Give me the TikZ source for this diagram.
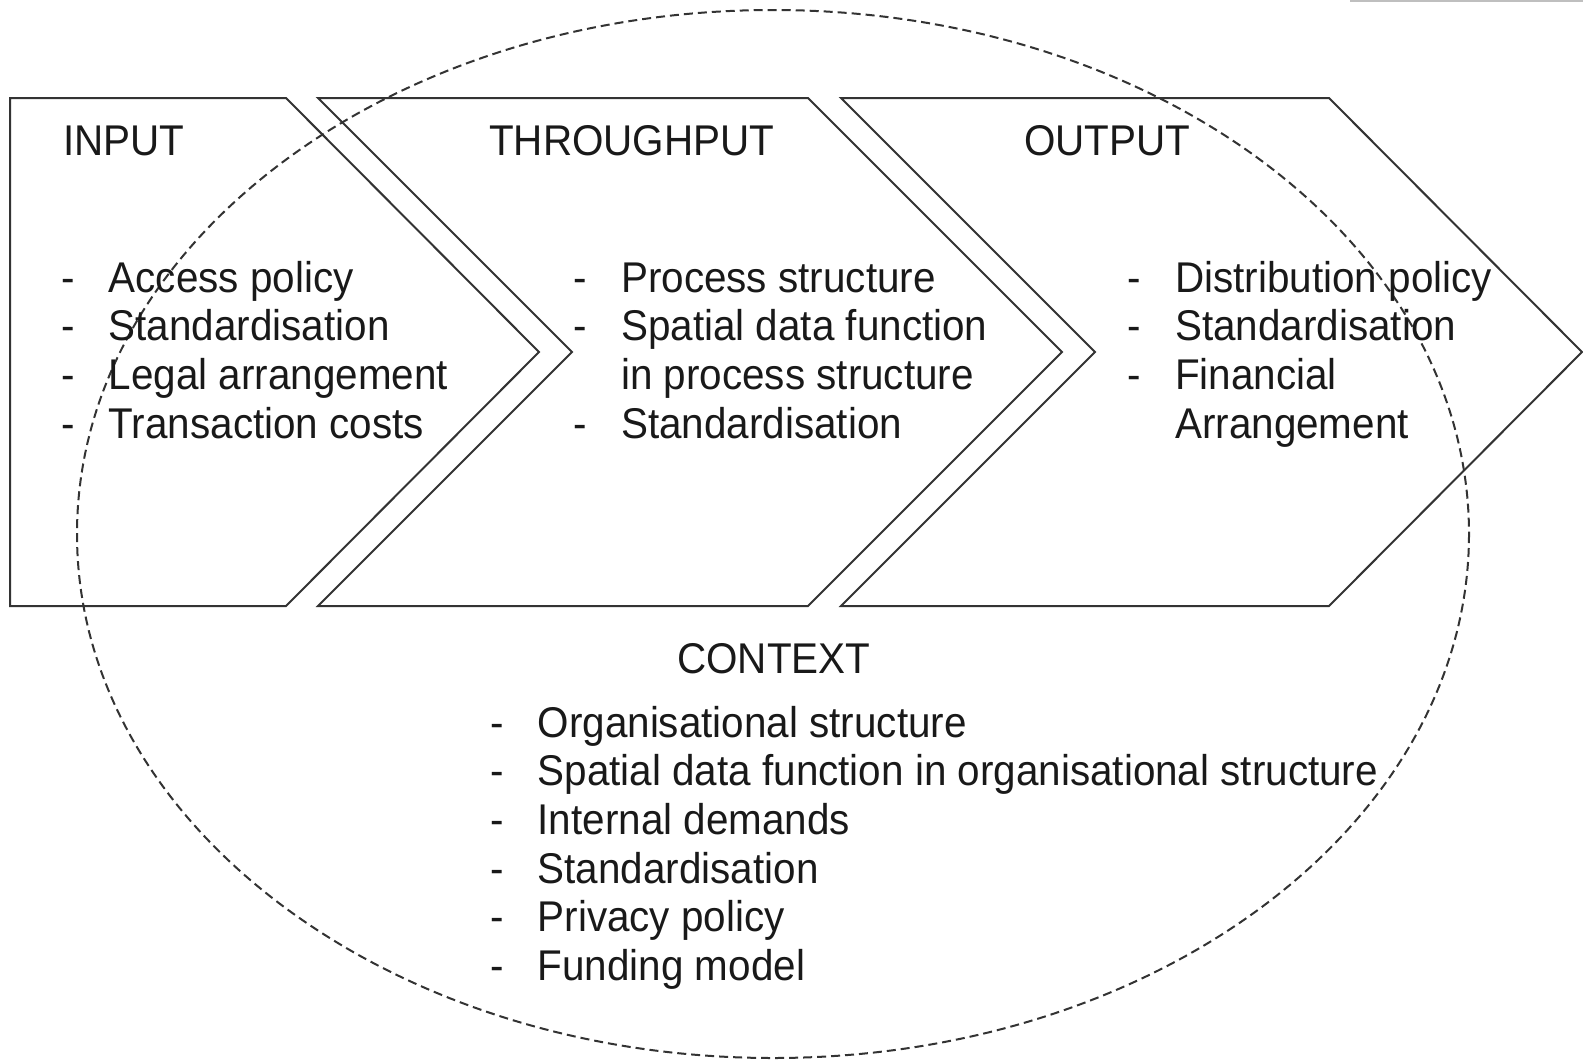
\documentclass[tikz,border=0pt]{standalone}
\usepackage{fontspec}
\setmainfont{Liberation Sans}[FakeStretch=0.94]
\begin{document}
\begin{tikzpicture}[x=1pt,y=-1pt,
  chev/.style={draw=black!80, line width=2pt, line join=miter},
  ctx/.style={draw=black!80, line width=2pt, dash pattern=on 9pt off 5pt},
  lbl/.style={inner sep=0pt, anchor=base west, text=black!90, font=\fontsize{43}{48.7}\selectfont},
]
\useasboundingbox (0,0) rectangle (1583,1061);
% faint line at top right
\draw[black!25, line width=2pt] (1350,1) -- (1583,1);
% context ellipse
\draw[ctx] (773,534) ellipse [x radius=696, y radius=524];
% chevrons
\draw[chev] (10,98) -- (286,98) -- (539,352) -- (286,606) -- (10,606) -- cycle;
\draw[chev] (318,98) -- (808,98) -- (1062,352) -- (808,606) -- (318,606) -- (572,352) -- cycle;
\draw[chev] (841,98) -- (1329,98) -- (1582,352) -- (1329,606) -- (841,606) -- (1095,352) -- cycle;
% titles
\node[lbl] (tin) at (63,155) {INPUT};
\node[lbl] (tthr) at (489,155) {THROUGHPUT};
\node[lbl] (tout) at (1024,155) {OUTPUT};
\node[lbl] (tctx) at (677,673) {CONTEXT};
% lists
\node[lbl] (lin) at (61,292) {\begin{tabular}[t]{@{}p{47.5pt}@{}l@{}}
- & Access policy\\
- & Standardisation\\
- & Legal arrangement\\
- & Transaction costs
\end{tabular}};
\node[lbl] (lthr) at (573,292) {\begin{tabular}[t]{@{}p{48pt}@{}l@{}}
- & Process structure\\
- & Spatial data function\\
  & in process structure\\
- & Standardisation
\end{tabular}};
\node[lbl] (lout) at (1127,292) {\begin{tabular}[t]{@{}p{48pt}@{}l@{}}
- & Distribution policy\\
- & Standardisation\\
- & Financial\\
  & Arrangement
\end{tabular}};
\node[lbl] (lctx) at (490,737) {\begin{tabular}[t]{@{}p{47.5pt}@{}l@{}}
- & Organisational structure\\
- & Spatial data function in organisational structure\\
- & Internal demands\\
- & Standardisation\\
- & Privacy policy\\
- & Funding model
\end{tabular}};
\end{tikzpicture}
\end{document}
